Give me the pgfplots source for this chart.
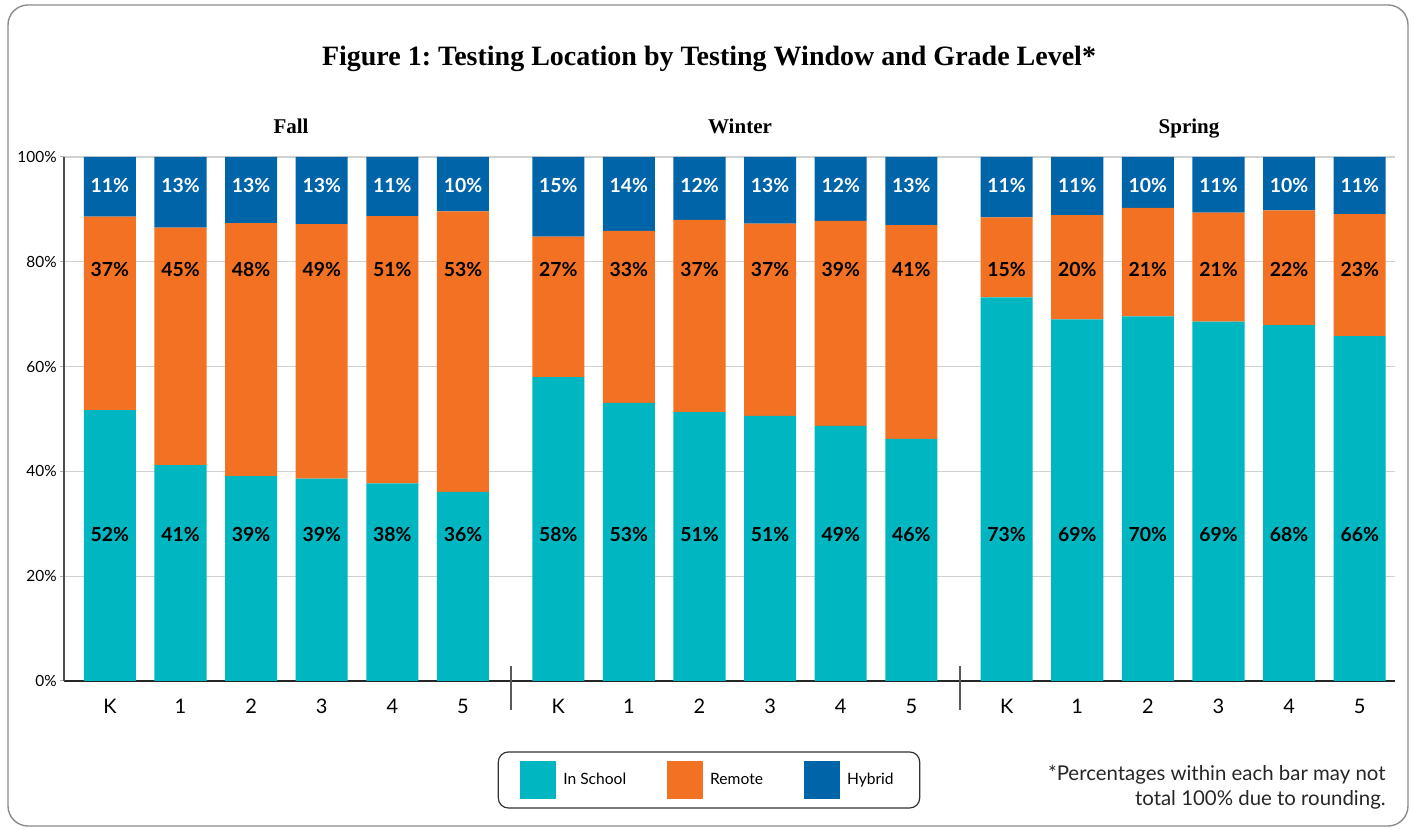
\documentclass[border=0pt]{standalone}
\usepackage{pgfplots}
\pgfplotsset{compat=1.18}
\usepackage{pgfplotstable}
\usepackage{fontspec}
\setmainfont{Lato}
\newfontfamily\titlefont{Liberation Serif}
\definecolor{school}{HTML}{00B6C1}
\definecolor{remote}{HTML}{F27122}
\definecolor{hybrid}{HTML}{0064A8}

\pgfplotstableread{
x school remote hybrid ls lr lh
0 51.7 36.9 11.4 52 37 11
1 41.2 45.3 13.5 41 45 13
2 39.1 48.3 12.6 39 48 13
3 38.6 48.6 12.8 39 49 13
4 37.7 51.0 11.3 38 51 11
5 36.1 53.5 10.4 36 53 10
6.35 58.0 26.8 15.2 58 27 15
7.35 53.1 32.8 14.1 53 33 14
8.35 51.3 36.7 12.0 51 37 12
9.35 50.6 36.7 12.7 51 37 13
10.35 48.7 39.1 12.2 49 39 12
11.35 46.2 40.8 13.0 46 41 13
12.7 73.2 15.3 11.5 73 15 11
13.7 69.0 19.9 11.1 69 20 11
14.7 69.6 20.7 9.7 70 21 10
15.7 68.6 20.8 10.6 69 21 11
16.7 67.9 21.9 10.2 68 22 10
17.7 65.8 23.3 10.9 66 23 11
}\data

\frenchspacing
\begin{document}
\begin{tikzpicture}
\path[use as bounding box] (0,0) rectangle (707pt,415pt);
\draw[black!45, line width=0.7pt, rounded corners=10pt] (4pt,2pt) rectangle (704pt,412.5pt);

\begin{axis}[
  at={(32pt,74.5pt)}, anchor=south west,
  scale only axis, width=665.5pt, height=262pt,
  xmin=-0.65, xmax=18.2, ymin=0, ymax=100,
  ybar stacked, bar width=0.737,
  axis x line*=bottom, axis y line*=left,
  x axis line style={black!85, line width=0.8pt},
  y axis line style={black!70, line width=0.8pt},
  ytick={0,20,...,100},
  yticklabel={\pgfmathprintnumber{\tick}\%},
  /pgf/number format/assume math mode=true,
  yticklabel style={font=\fontsize{7.7}{9}\selectfont, inner sep=1.5pt},
  ytick style={black!30, line width=0.5pt},
  major tick length=2pt, tick align=outside,
  ymajorgrids, grid style={black!18, line width=0.6pt},
  xtick={0,1,2,3,4,5,6.35,7.35,8.35,9.35,10.35,11.35,12.7,13.7,14.7,15.7,16.7,17.7},
  xticklabels={K,1,2,3,4,5,K,1,2,3,4,5,K,1,2,3,4,5},
  xtick style={draw=none},
  xticklabel style={font=\fontsize{10}{12}\selectfont, yshift=-3.5pt},
  clip=false,
  legend style={at={(0.4846,-0.1889)}, anchor=center, draw=black!80, line width=0.6pt,
    rounded corners=5pt, legend columns=3, font=\fontsize{7.8}{9}\selectfont,
    inner xsep=11pt, inner ysep=4.5pt,
    /tikz/every even column/.append style={column sep=18.5pt}},
  legend cell align=left,
  legend image code/.code={\fill[#1, sharp corners] (0pt,-9.5pt) rectangle (18pt,9.5pt); \path (19.5pt,0pt);},
]
\addplot[draw=none, fill=school] table[x=x, y=school]{\data};
\addplot[draw=none, fill=remote] table[x=x, y=remote]{\data};
\addplot[draw=none, fill=hybrid] table[x=x, y=hybrid]{\data};
\legend{In School, Remote, Hybrid}
\draw[black!65, line width=0.7pt] (axis cs:5.68,2.9) -- (axis cs:5.68,-5.5);
\draw[black!65, line width=0.7pt] (axis cs:12.04,2.9) -- (axis cs:12.04,-5.5);
\end{axis}

\begin{axis}[
  at={(32pt,74.5pt)}, anchor=south west,
  scale only axis, width=665.5pt, height=262pt,
  xmin=-0.65, xmax=18.2, ymin=0, ymax=100,
  hide axis, clip=false,
  nodes near coords={\pgfplotspointmeta\%},
  point meta=explicit symbolic,
  every node near coord/.append style={anchor=center, font=\fontsize{9.7}{11}\selectfont\bfseries},
]
\addplot[draw=none, mark=none, nodes near coords style={text=black}] table[x=x, y expr=27.9, meta=ls]{\data};
\addplot[draw=none, mark=none, nodes near coords style={text=black}] table[x=x, y expr=78.6, meta=lr]{\data};
\addplot[draw=none, mark=none, nodes near coords style={text=white}] table[x=x, y expr=94.5, meta=lh]{\data};
\end{axis}

\node[anchor=base, font=\titlefont\bfseries\fontsize{14}{16}\selectfont] at (354.5pt,382pt) {Figure 1: Testing Location by Testing Window and Grade Level*};
\node[anchor=base, font=\titlefont\bfseries\fontsize{10.5}{12}\selectfont] at (145.5pt,348pt) {Fall};
\node[anchor=base, font=\titlefont\bfseries\fontsize{10.5}{12}\selectfont] at (370pt,348pt) {Winter};
\node[anchor=base, font=\titlefont\bfseries\fontsize{10.5}{12}\selectfont] at (594.5pt,348pt) {Spring};
\node[anchor=base east, inner sep=0pt, align=right, font=\fontsize{10.2}{12.5}\selectfont, text=black!85] at (693pt,12pt) {*Percentages within each bar may not\\total 100\% due to rounding.};
\end{tikzpicture}
\end{document}
